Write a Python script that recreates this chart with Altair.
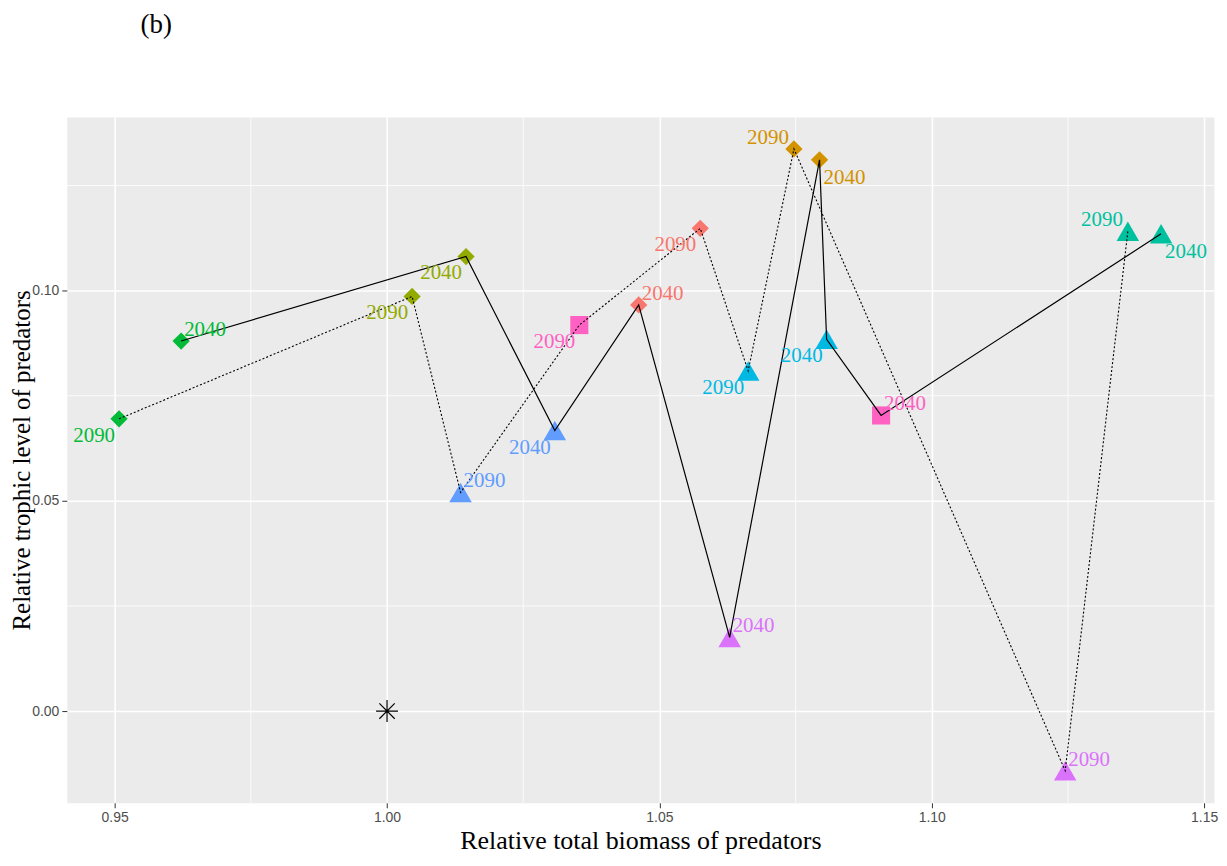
import altair as alt
import pandas as pd

# ---- data ----
groups = ["G1", "G2", "G3", "G4", "G5", "G6", "G7", "G8", "G9"]
colors = ["#F8766D", "#D39200", "#93AA00", "#00BA38", "#00C19F",
          "#00B9E3", "#619CFF", "#DB72FB", "#FF61C3"]
shapes = ["diamond", "diamond", "diamond", "diamond",
          "triangle-up", "triangle-up", "triangle-up", "triangle-up", "square"]

x_2040 = [1.0462, 1.0794, 1.0145, 0.9622, 1.1421, 1.0807, 1.0308, 1.0629, 1.0907]
y_2040 = [0.0966, 0.1311, 0.1081, 0.0880, 0.1135, 0.0884, 0.0667, 0.0175, 0.0703]
x_2090 = [1.0575, 1.0747, 1.0046, 0.9508, 1.1360, 1.0663, 1.0135, 1.1245, 1.0353]
y_2090 = [0.1148, 0.1337, 0.0986, 0.0695, 0.1141, 0.0809, 0.0520, -0.0142, 0.0918]

# label placement relative to its point (style hint)
side_2040 = ["NE", "SE", "SW", "NE", "SE", "SW", "SW", "NE", "NE"]
side_2090 = ["SW", "NW", "SW", "SW", "NW", "SW", "NE", "NE", "SW"]

ref_x = [1.0]
ref_y = [0.0]

x_major = [0.95, 1.00, 1.05, 1.10, 1.15]
x_minor = [0.975, 1.025, 1.075, 1.125]
y_major = [0.00, 0.05, 0.10]
y_minor = [0.025, 0.075, 0.125]

# ---- tables ----
rows = []
for i, g in enumerate(groups):
    rows.append(dict(group=g, year="2040", x=x_2040[i], y=y_2040[i], side=side_2040[i], shape=shapes[i]))
    rows.append(dict(group=g, year="2090", x=x_2090[i], y=y_2090[i], side=side_2090[i], shape=shapes[i]))
df = pd.DataFrame(rows)
df40 = df[df.year == "2040"]
df90 = df[df.year == "2090"]

W, H = 1151, 688
serif = "Liberation Serif"
sans = "Liberation Sans"

xscale = alt.Scale(domain=[0.94121, 1.15182], nice=False, zero=False)
yscale = alt.Scale(domain=[-0.02182, 0.14128], nice=False, zero=False)

common_axis = dict(
    format=".2f", grid=True, gridColor="white", gridWidth=1.6,
    domain=False, ticks=True, tickColor="#333333", tickSize=5, tickWidth=1,
    labelColor="#4D4D4D", labelFont=sans, labelFontSize=14,
    labelFlush=False, labelOverlap=False, labelBound=False,
    titleFont=serif, titleFontWeight="normal", titleColor="black",
    titleAlign="center", titleBaseline="alphabetic",
)
xaxis = alt.Axis(values=x_major, title="Relative total biomass of predators",
                 labelPadding=3, titleFontSize=26, titleX=W / 2, titleY=46,
                 **common_axis)
yaxis = alt.Axis(values=y_major, title="Relative trophic level of predators",
                 labelPadding=3, titleFontSize=25, titleX=-37, titleY=H / 2,
                 titleAngle=270, **common_axis)

X = alt.X("x:Q", scale=xscale, axis=xaxis)
Y = alt.Y("y:Q", scale=yscale, axis=yaxis)

minor_v = alt.Chart(pd.DataFrame({"x": x_minor})).mark_rule(
    color="white", strokeWidth=0.8).encode(x=X)
minor_h = alt.Chart(pd.DataFrame({"y": y_minor})).mark_rule(
    color="white", strokeWidth=0.8).encode(y=Y)

color_enc = alt.Color("group:N", scale=alt.Scale(domain=groups, range=colors), legend=None)

shape_size = {"diamond": 300, "triangle-up": 510, "square": 330}
point_layers = []
for shp, sz in shape_size.items():
    point_layers.append(
        alt.Chart(df[df["shape"] == shp]).mark_point(
            shape=shp, size=sz, filled=True, opacity=1, strokeWidth=0
        ).encode(x=X, y=Y, color=color_enc)
    )

line40 = alt.Chart(df40).mark_line(color="black", strokeWidth=1.2).encode(x=X, y=Y)
line90 = alt.Chart(df90).mark_line(color="black", strokeWidth=1.1,
                                   strokeDash=[2, 2]).encode(x=X, y=Y)

star = alt.Chart(pd.DataFrame({"x": ref_x, "y": ref_y})).mark_point(
    shape="M-1,0L1,0M0,-1L0,1M-0.7,-0.7L0.7,0.7M-0.7,0.7L0.7,-0.7",
    filled=False, color="black", strokeWidth=1.2, size=484, opacity=1,
).encode(x=X, y=Y)

side_style = {
    "NE": dict(align="left", dx=3, dy=-11),
    "SE": dict(align="left", dx=4, dy=18),
    "SW": dict(align="right", dx=-4, dy=17),
    "NW": dict(align="right", dx=-5, dy=-11),
}
label_layers = []
for s, st in side_style.items():
    label_layers.append(
        alt.Chart(df[df.side == s]).mark_text(
            font=serif, fontSize=21, baseline="middle", **st
        ).encode(x=X, y=Y, text="year:N", color=color_enc)
    )

chart = alt.layer(minor_v, minor_h, *point_layers, line40, line90, star, *label_layers).properties(
    width=W, height=H,
    title=alt.TitleParams("(b)", anchor="start", frame="group", dx=74, offset=57,
                          font=serif, fontSize=27, fontWeight="normal",
                          color="black", baseline="alphabetic"),
    autosize=alt.AutoSizeParams(type="none"),
    padding={"left": 59, "top": 108, "right": 5, "bottom": 50},
    background="white",
).configure_view(fill="#EBEBEB", stroke="transparent")

chart.save("out.html", embed_options={"renderer": "svg", "actions": False})
